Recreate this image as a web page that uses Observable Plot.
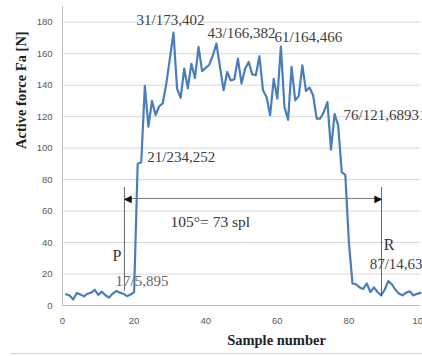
<!DOCTYPE html>
<html>
<head>
<meta charset="utf-8">
<script src="https://cdn.jsdelivr.net/npm/d3@7"></script>
<script src="https://cdn.jsdelivr.net/npm/@observablehq/plot@0.6"></script>
<style>
  html, body { margin: 0; padding: 0; background: #fff; overflow: hidden; }
  #wrap { position: relative; width: 422px; height: 356px; }
  #border { position: absolute; left: 10px; top: 353px; width: 412px; height: 1px; background: #d4d4d4; }
</style>
</head>
<body>
<div id="wrap"><div id="border"></div></div>
<script>
// Sample numbers and measured active force [N]
const samples = d3.range(1, 101);
const force = [
  7.2, 6.3, 3.8, 8, 7, 5.8, 7.5, 8.2, 10, 6.8,
  8.8, 6.5, 5, 7.5, 9.2, 8.2, 7.5, 5.9, 7, 8.5,
  90.1, 91, 139.5, 113.7, 130, 121, 126.6, 128.5, 141, 157,
  173.4, 137.8, 132, 150.5, 138, 153.6, 144.6, 164.3, 148.9, 151,
  153, 159, 166.4, 151.5, 136.8, 148.4, 143, 143.8, 156.9, 141,
  150.5, 154.8, 146.9, 146.3, 158.4, 136.8, 132.5, 120.9, 144, 131.5,
  164.5, 126.2, 118, 151.6, 130.4, 133.2, 152.6, 136.3, 138.5, 133.6,
  118.8, 118.8, 123, 129.3, 99, 121.7, 114.5, 84.8, 83, 40,
  14, 13.5, 11.5, 10.5, 14, 8.6, 11.5, 8.6, 6.5, 10,
  15.5, 13.5, 10, 7.5, 6.5, 8.2, 9, 6.4, 7.4, 8
];
const xTicks = [0, 20, 40, 60, 80, 100];
const yTicks = [0, 20, 40, 60, 80, 100, 120, 140, 160, 180];

// Point annotations (sample / value labels)
const noteText = ["31/173,402", "43/166,382", "61/164,466", "76/121,68931", "21/234,252", "87/14,63"];
const noteX = [20.7, 40.5, 59.2, 78.5, 23.7, 85.8];
const noteY = [178, 169.8, 167.3, 117.7, 91, 23.5];

// Start / end markers P and R, and the span between them
const markText = ["P", "R"];
const markX = [17.3, 89.1];
const markTop = [75, 75];
const markBottom = [9, 5.5];
const markLabelX = [14, 89.7];
const markLabelY = [28, 35];
const startLabel = "17/5,895";
const startLabelPos = [14.8, 12.7];
const spanY = 68;
const spanLabel = "105°= 73 spl";
const spanLabelPos = [30.2, 50];

const data = samples.map((s, i) => ({sample: s, force: force[i]}));
const notes = noteText.map((t, i) => ({t, x: noteX[i], y: noteY[i]}));
const marks = markText.map((t, i) => ({t, x: markX[i], y1: markBottom[i], y2: markTop[i], lx: markLabelX[i], ly: markLabelY[i]}));

const serif = "'Liberation Serif', 'DejaVu Serif', serif";

const chart = Plot.plot({
  width: 422,
  height: 356,
  marginLeft: 62,
  marginRight: 2,
  marginTop: 6,
  marginBottom: 51,
  style: {fontFamily: "'Liberation Sans', sans-serif", fontSize: "9.5px", color: "#595959", background: "transparent"},
  x: {domain: [0, 100], ticks: xTicks, tickSize: 0, tickPadding: 12, label: null},
  y: {domain: [0, 190], ticks: yTicks, tickSize: 0, tickPadding: 10, label: null},
  marks: [
    Plot.ruleY(yTicks, {stroke: "#d9d9d9", strokeWidth: 1}),
    Plot.ruleY([0], {stroke: "#bfbfbf"}),
    Plot.ruleX([0], {stroke: "#bfbfbf", y1: 0, y2: 190}),
    Plot.line(data, {x: "sample", y: "force", stroke: "#4a7ebb", strokeWidth: 2.2, strokeLinejoin: "round"}),
    Plot.ruleX(marks, {x: "x", y1: "y1", y2: "y2", stroke: "#404040", strokeWidth: 0.8}),
    Plot.ruleY([spanY], {x1: markX[0], x2: markX[1], stroke: "#6f6f6f", strokeWidth: 0.9}),
    Plot.text(["◀"], {x: markX[0], y: spanY, text: d => d, textAnchor: "start", fontFamily: "DejaVu Sans", fontSize: 10, fill: "#111", dx: -0.5}),
    Plot.text(["▶"], {x: markX[1], y: spanY, text: d => d, textAnchor: "end", fontFamily: "DejaVu Sans", fontSize: 10, fill: "#111", dx: 0.5}),
    Plot.text(marks, {x: "lx", y: "ly", text: "t", textAnchor: "start", lineAnchor: "bottom", fontFamily: serif, fontSize: 16, fill: "#333"}),
    Plot.text(notes, {x: "x", y: "y", text: "t", textAnchor: "start", lineAnchor: "bottom", fontFamily: serif, fontSize: 15, fill: "#404040"}),
    Plot.text([startLabel], {x: startLabelPos[0], y: startLabelPos[1], text: d => d, textAnchor: "start", lineAnchor: "bottom", fontFamily: serif, fontSize: 15, fill: "#666"}),
    Plot.text([spanLabel], {x: spanLabelPos[0], y: spanLabelPos[1], text: d => d, textAnchor: "start", lineAnchor: "bottom", fontFamily: serif, fontSize: 15.5, fill: "#333"}),
    Plot.text(["Sample number"], {frameAnchor: "bottom", text: d => d, dx: 35, dy: 39, fontFamily: serif, fontSize: 14.5, fontWeight: "bold", fill: "#222"}),
    Plot.text(["Active force Fa [N]"], {frameAnchor: "left", text: d => d, rotate: -90, dx: -41, dy: -7, fontFamily: serif, fontSize: 14.5, fontWeight: "bold", fill: "#222"})
  ]
});
document.getElementById("wrap").appendChild(chart);
chart.style.position = "absolute";
chart.style.left = "0";
chart.style.top = "0";
</script>
</body>
</html>
